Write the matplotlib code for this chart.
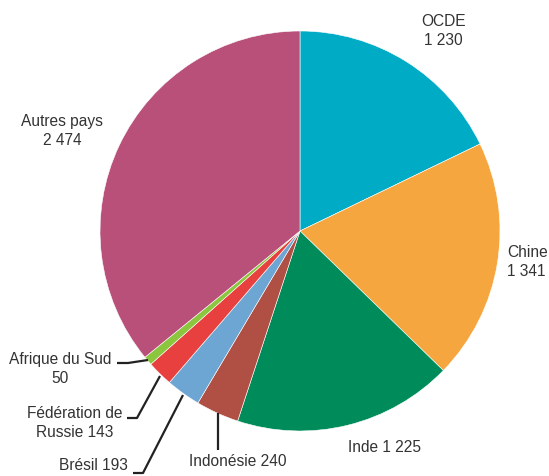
import matplotlib
matplotlib.use("Agg")
import matplotlib.pyplot as plt

labels = ["OCDE", "Chine", "Inde", "Indonésie", "Brésil", "Fédération de Russie", "Afrique du Sud", "Autres pays"]
values = [1230, 1341, 1225, 240, 193, 143, 50, 2474]
label_texts = ["OCDE\n1 230", "Chine\n1 341", "Inde 1 225", "Indonésie 240", "Brésil 193",
               "Fédération de\nRussie 143", "Afrique du Sud\n50", "Autres pays\n2 474"]
colors = ["#00ABC6", "#F6A63E", "#008C5A", "#B04F43", "#6EA6D3", "#E8403F", "#8CC63F", "#B8507A"]

W, H = 549, 476
fig = plt.figure(figsize=(W / 100, H / 100), dpi=100)
ax = fig.add_axes([0, 0, 1, 1])

def Y(y):
    return H - y

ax.pie(values, colors=colors, startangle=90, counterclock=False,
       center=(300, Y(231)), radius=200, frame=True,
       wedgeprops=dict(edgecolor="white", linewidth=0.4))
ax.set_xlim(0, W)
ax.set_ylim(0, H)
ax.set_aspect("equal")
ax.axis("off")

fam = ["Liberation Sans Narrow", "Liberation Sans", "DejaVu Sans"]
tc = "#333333"
fs = 11.2
kw = dict(color=tc, fontsize=fs, family=fam, linespacing=1.3)

# label positions (pixel coordinates of the reference)
pos = {
    "OCDE": (443, 31, "center"),
    "Chine": (548, 262, "right"),
    "Inde": (384, 447, "center"),
    "Indonésie": (238, 461, "center"),
    "Brésil": (128, 466, "right"),
    "Fédération de Russie": (75, 423, "center"),
    "Afrique du Sud": (60, 369, "center"),
    "Autres pays": (62, 131, "center"),
}
for lab, txt in zip(labels, label_texts):
    x, y, ha = pos[lab]
    ax.text(x, Y(y), txt, ha=ha, va="center", multialignment="left" if lab == "Chine" else "center", **kw)

lk = dict(color="#222222", linewidth=1.6, solid_capstyle="butt")
leaders = [
    ([117, 128, 148], [363, 363, 360]),
    ([127, 137, 160], [418, 418, 376]),
    ([133, 143, 183], [473, 473, 395]),
    ([218, 218], [413, 450]),
]
for xs, ys in leaders:
    ax.plot(xs, [Y(v) for v in ys], **lk)

fig.savefig("out.png", dpi=100)
